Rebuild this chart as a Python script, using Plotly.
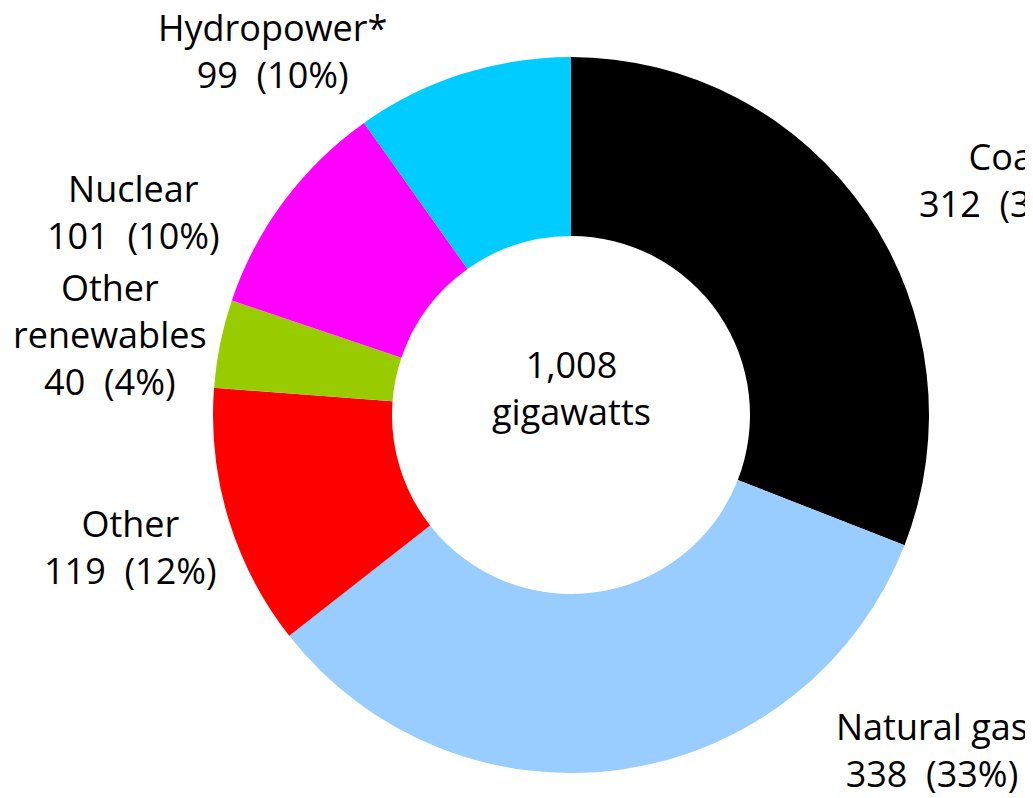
import plotly.graph_objects as go

labels = ["Coal", "Natural gas", "Other", "Other renewables", "Nuclear", "Hydropower*"]
values = [312, 338, 119, 40, 101, 99]
pcts = ["31%", "33%", "12%", "4%", "10%", "10%"]
colors = ["#000000", "#99CCFF", "#FF0000", "#99CC00", "#FF00FF", "#00CCFF"]
label_lines = [["Coal"], ["Natural gas"], ["Other"], ["Other", "renewables"], ["Nuclear"], ["Hydropower*"]]
total_text = ["1,008", "gigawatts"]

W, H = 1033, 798
OFF = 8  # page body margin offset
cx, cy, R = 571 - OFF, 415 - OFF, 358

fig = go.Figure(go.Pie(
    labels=labels, values=values, hole=0.5, sort=False, direction="clockwise",
    rotation=0, marker=dict(colors=colors, line=dict(width=0)),
    textinfo="none", hoverinfo="label+value+percent", showlegend=False,
    domain=dict(x=[(cx - R) / W, (cx + R) / W], y=[(H - cy - R) / H, (H - cy + R) / H]),
))

# label block centers in reference pixels
label_pos = {
    "Coal": (1005, 180),
    "Natural gas": (932, 750),
    "Other": (130, 547),
    "Other renewables": (110, 334),
    "Nuclear": (133, 212),
    "Hydropower*": (272, 51),
}

FONT = "Open Sans, Liberation Sans, sans-serif"
FS = 36
for lab, val, pct, lines in zip(labels, values, pcts, label_lines):
    x, y = label_pos[lab]
    text = "<br>".join(lines + [f"{val}&nbsp; ({pct})"])
    fig.add_annotation(x=(x - OFF) / W, y=1 - (y - OFF) / H, xref="paper", yref="paper", text=text,
                       showarrow=False, xanchor="center", yanchor="middle", align="center",
                       font=dict(family=FONT, size=FS, color="black"))

fig.add_annotation(x=(571 - OFF) / W, y=1 - (388 - OFF) / H, xref="paper", yref="paper",
                   text="<br>".join(total_text), showarrow=False, xanchor="center",
                   yanchor="middle", align="center",
                   font=dict(family=FONT, size=FS, color="black"))

fig.update_layout(width=W, height=H, margin=dict(l=0, r=0, t=0, b=0),
                  paper_bgcolor="white", plot_bgcolor="white")
fig.write_html("out.html")
